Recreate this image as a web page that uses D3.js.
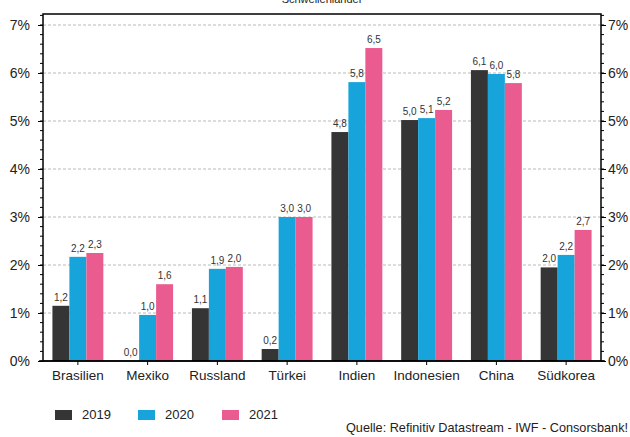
<!DOCTYPE html>
<html lang="de">
<head>
  <meta charset="utf-8">
  <title>Schwellenländer</title>
  <script src="https://d3js.org/d3.v7.min.js"></script>
  <style type="text/css">
    body { margin: 0; background: #fff; }
    svg text { font-family: "Liberation Sans", Arial, sans-serif; fill: #222; }
  </style>
</head>
<body>
  <script type="text/javascript">

const countries = ["Brasilien", "Mexiko", "Russland", "Türkei", "Indien", "Indonesien", "China", "Südkorea"];
const years = ["2019", "2020", "2021"];
const v2019 = [1.15, 0.0, 1.1, 0.25, 4.77, 5.02, 6.06, 1.95];
const v2020 = [2.17, 0.96, 1.92, 3.0, 5.81, 5.06, 5.98, 2.21];
const v2021 = [2.25, 1.6, 1.96, 3.0, 6.52, 5.23, 5.79, 2.73];
const lbl2019 = ["1,2", "0,0", "1,1", "0,2", "4,8", "5,0", "6,1", "2,0"];
const lbl2020 = ["2,2", "1,0", "1,9", "3,0", "5,8", "5,1", "6,0", "2,2"];
const lbl2021 = ["2,3", "1,6", "2,0", "3,0", "6,5", "5,2", "5,8", "2,7"];
const yTicks = [0, 1, 2, 3, 4, 5, 6, 7];
const colors = ["#353535", "#16a4db", "#ea5c8f"];

const series = [v2019, v2020, v2021];
const labels = [lbl2019, lbl2020, lbl2021];

const width = 630, height = 437;
const plotLeft = 43, plotRight = 601, plotTop = 14, plotBottom = 361;

const svg = d3.select("body").append("svg")
    .attr("width", width)
    .attr("height", height);

const x = d3.scaleBand()
    .domain(countries)
    .range([plotLeft, plotRight])
    .paddingInner(0.27)
    .paddingOuter(0.135);

const xSub = d3.scaleBand()
    .domain(years)
    .range([0, x.bandwidth()]);

const y = d3.scaleLinear()
    .domain([0, 7])
    .range([plotBottom, 25]);
const yTopVal = y.invert(plotTop);

// title (cut off at the top, like in the original)
svg.append("text")
    .attr("x", 322)
    .attr("y", 3)
    .attr("text-anchor", "middle")
    .style("font-size", "11px")
    .text("Schwellenländer");

// grid lines
svg.append("g").selectAll("line")
    .data(yTicks.filter(d => d > 0))
    .enter().append("line")
    .attr("x1", plotLeft).attr("x2", plotRight)
    .attr("y1", d => y(d)).attr("y2", d => y(d))
    .attr("stroke", "#a8a8a8")
    .attr("stroke-width", 0.8)
    .attr("stroke-dasharray", "3,2");

// bars
const groups = svg.append("g").selectAll("g")
    .data(countries)
    .enter().append("g")
    .attr("transform", d => `translate(${x(d)},0)`);

years.forEach((yr, k) => {
  groups.append("rect")
      .attr("x", xSub(yr))
      .attr("width", xSub.bandwidth())
      .attr("y", (d, i) => y(series[k][i]))
      .attr("height", (d, i) => y(0) - y(series[k][i]))
      .attr("fill", colors[k]);

  groups.append("text")
      .attr("x", xSub(yr) + xSub.bandwidth() / 2)
      .attr("y", (d, i) => y(series[k][i]) - 5)
      .attr("text-anchor", "middle")
      .style("font-size", "10px")
      .style("fill", "#333")
      .text((d, i) => labels[k][i]);
});

// minor ticks
const minor = d3.range(0, yTopVal, 0.2);

// left axis
const yLeft = d3.axisLeft(y).tickValues(yTicks).tickSize(5).tickPadding(8)
    .tickFormat(d => d + "%");
const gl = svg.append("g").attr("transform", `translate(${plotLeft},0)`).call(yLeft);
gl.select(".domain").remove();
gl.selectAll("text").style("font-size", "14px");
gl.selectAll("line").attr("stroke", "#000");
gl.append("g").selectAll("line").data(minor).enter().append("line")
    .attr("x1", -3).attr("x2", 0)
    .attr("y1", d => y(d)).attr("y2", d => y(d))
    .attr("stroke", "#000");

// right axis
const yRight = d3.axisRight(y).tickValues(yTicks).tickSize(5).tickPadding(2)
    .tickFormat(d => d + "%");
const gr = svg.append("g").attr("transform", `translate(${plotRight},0)`).call(yRight);
gr.select(".domain").remove();
gr.selectAll("text").style("font-size", "14px");
gr.selectAll("line").attr("stroke", "#000");
gr.append("g").selectAll("line").data(minor).enter().append("line")
    .attr("x1", 0).attr("x2", 3)
    .attr("y1", d => y(d)).attr("y2", d => y(d))
    .attr("stroke", "#000");

// bottom axis
const xAxis = d3.axisBottom(x).tickSize(4).tickPadding(5);
const gx = svg.append("g").attr("transform", `translate(0,${plotBottom})`).call(xAxis);
gx.select(".domain").remove();
gx.selectAll("line").attr("stroke", "#000");
gx.selectAll("text").style("font-size", "13.5px");

// frame
svg.append("rect")
    .attr("x", plotLeft).attr("y", plotTop)
    .attr("width", plotRight - plotLeft).attr("height", plotBottom - plotTop)
    .attr("fill", "none")
    .attr("stroke", "#000")
    .attr("stroke-width", 1.5);
svg.append("line")
    .attr("x1", plotLeft - 4).attr("x2", plotRight + 4)
    .attr("y1", plotBottom).attr("y2", plotBottom)
    .attr("stroke", "#000").attr("stroke-width", 1.5);

// legend
const legendX = [55, 138, 222];
years.forEach((yr, k) => {
  const lg = svg.append("g").attr("transform", `translate(${legendX[k]},410)`);
  lg.append("rect")
      .attr("width", 17).attr("height", 10)
      .attr("fill", colors[k]);
  lg.append("text")
      .attr("x", 27).attr("y", 4)
      .attr("dy", ".35em")
      .style("font-size", "13px")
      .text(yr);
});

// source
svg.append("text")
    .attr("x", 628).attr("y", 432)
    .attr("text-anchor", "end")
    .style("font-size", "12.7px")
    .text("Quelle: Refinitiv Datastream - IWF - Consorsbank!");

  </script>
</body>
</html>
